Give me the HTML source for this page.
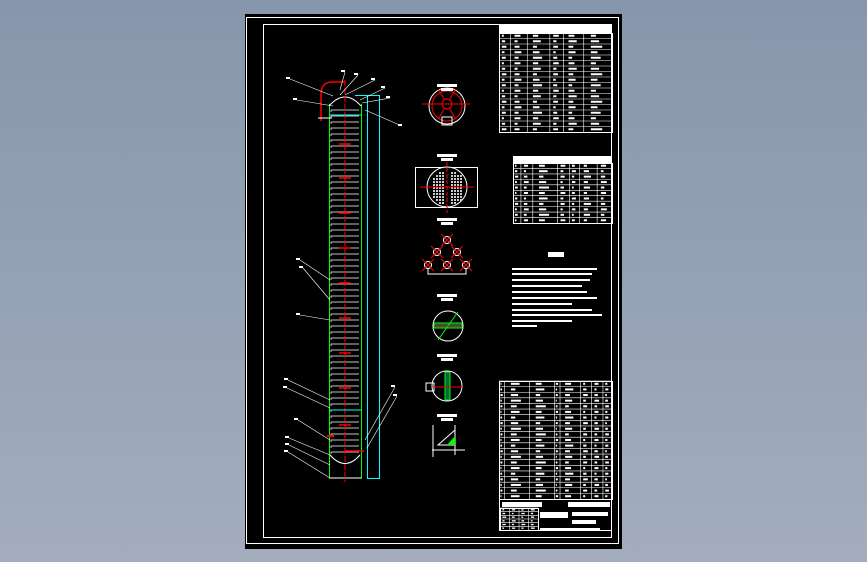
<!DOCTYPE html><html><head><meta charset="utf-8"><style>
html,body{margin:0;padding:0;width:867px;height:562px;overflow:hidden;background:linear-gradient(#8796ac,#a3adbd);}
svg{position:absolute;left:0;top:0}
</style></head><body>
<svg id="s" width="867" height="562" viewBox="0 0 867 562" font-family="Liberation Sans, Noto Sans CJK SC, sans-serif">
<rect x="245" y="14" width="377" height="535" fill="#000"/>
<rect x="246.5" y="17.5" width="372" height="526" fill="none" stroke="#fff" stroke-width="1"/>
<rect x="263.5" y="24.5" width="348" height="513" fill="none" stroke="#fff" stroke-width="1"/>
<g id="col"></g>
<g id="mid" fill="none"></g>
<g id="tb"></g>
</svg>
<script>
const NS="http://www.w3.org/2000/svg";
function el(p,t,a){const e=document.createElementNS(NS,t);for(const k in a)e.setAttribute(k,a[k]);p.appendChild(e);return e;}
const col=document.getElementById('col'),mid=document.getElementById('mid'),tb=document.getElementById('tb');
// column
el(col,'rect',{x:367.5,y:95.5,width:12,height:383,fill:'none',stroke:'#0ff'});
el(col,'line',{x1:355,y1:95.5,x2:368,y2:95.5,stroke:'#0ff'});
for(let y=110;y<455;y+=6){el(col,'path',{d:`M331 ${y+2} v-2 h28`,fill:'none',stroke:'#fff','stroke-width':0.7});}
el(col,'line',{x1:329.5,y1:104,x2:329.5,y2:478,stroke:'#0f0'});
el(col,'line',{x1:361.5,y1:104,x2:361.5,y2:478,stroke:'#0f0'});
el(col,'path',{d:'M329 106 Q345 88 361 106',fill:'none',stroke:'#fff'});
el(col,'path',{d:'M330 455 Q345 472 360 455',fill:'none',stroke:'#fff'});
el(col,'line',{x1:329,y1:478,x2:362,y2:478,stroke:'#fff'});
el(col,'line',{x1:345,y1:80,x2:345,y2:482,stroke:'#f00','stroke-dasharray':'6 2'});
el(col,'path',{d:'M321 121 V95 Q321 82 332 82 H345',fill:'none',stroke:'#f00','stroke-width':1.5});
el(col,'line',{x1:318,y1:118,x2:332,y2:118,stroke:'#fff'});
[144,178,213,248,283,318,353,388,425].forEach(y=>{el(col,'line',{x1:339,y1:y,x2:351,y2:y,stroke:'#f00','stroke-width':1.5});});
el(col,'line',{x1:330,y1:115,x2:361,y2:115,stroke:'#0ff'});
el(col,'line',{x1:330,y1:410,x2:361,y2:410,stroke:'#0ff'});
el(col,'line',{x1:327,y1:436,x2:334,y2:436,stroke:'#f00','stroke-width':2});
el(col,'line',{x1:345,y1:451,x2:364,y2:451,stroke:'#f00','stroke-width':1.5});
[[290,79,333,96],[297,100,333,106],[345,72,340,90],[358,75,340,95],[375,80,345,95],[385,88,360,100],[390,98,362,103],[402,126,365,110],[300,260,330,280],[303,268,330,300],[300,315,330,320],[288,380,330,400],[287,388,330,408],[298,420,330,440],[289,438,330,455],[289,445,330,465],[288,452,330,478],[395,387,365,440],[397,396,367,448]].forEach(a=>{el(col,'line',{x1:a[0],y1:a[1],x2:a[2],y2:a[3],stroke:'#fff','stroke-width':0.6});el(col,'rect',{x:a[0]-4,y:a[1]-2,width:4,height:2,fill:'#fff'});});
// mid drawings
el(mid,'circle',{cx:447,cy:106,r:18,stroke:'#fff'});
el(mid,'circle',{cx:447,cy:106,r:15,stroke:'#f00'});
el(mid,'circle',{cx:447,cy:104,r:5,stroke:'#f00'});
for(let a=0;a<6;a++){const r=a*Math.PI/3;el(mid,'line',{x1:447+5*Math.cos(r),y1:104+5*Math.sin(r),x2:447+17*Math.cos(r),y2:104+17*Math.sin(r),stroke:'#f00'});}
el(mid,'line',{x1:422,y1:104,x2:470,y2:104,stroke:'#f00'});
el(mid,'rect',{x:442,y:117,width:10,height:8,stroke:'#fff'});
el(mid,'rect',{x:415.5,y:167.5,width:62,height:40,stroke:'#fff'});
el(mid,'circle',{cx:447,cy:187,r:20,stroke:'#fff',fill:'#000'});
for(let y=172;y<203;y+=3)for(let x=433;x<461;x+=3){if(Math.hypot(x-447,y-187)<18&&Math.abs(x-447)>2)el(mid,'rect',{x:x,y:y,width:2,height:2,fill:'#ccc'});}
el(mid,'line',{x1:447,y1:162,x2:447,y2:213,stroke:'#f00','stroke-dasharray':'4 2'});
el(mid,'line',{x1:420,y1:187,x2:474,y2:187,stroke:'#f00'});
[[447,240],[437,252],[457,252],[428,265],[447,265],[466,265]].forEach(p=>{el(mid,'circle',{cx:p[0],cy:p[1],r:3.5,stroke:'#fff'});el(mid,'line',{x1:p[0]-6,y1:p[1]-6,x2:p[0]+6,y2:p[1]+6,stroke:'#f00'});el(mid,'line',{x1:p[0]+6,y1:p[1]-6,x2:p[0]-6,y2:p[1]+6,stroke:'#f00'});});
el(mid,'path',{d:'M428 268 V274 H466 V268',stroke:'#fff'});
[[448,326],[447,386]].forEach(c=>{el(mid,'circle',{cx:c[0],cy:c[1],r:15,stroke:'#fff'});});
el(mid,'rect',{x:434,y:323,width:28,height:5,stroke:'#0f0',fill:'#064'});
el(mid,'line',{x1:438,y1:340,x2:458,y2:312,stroke:'#0f0'});
el(mid,'line',{x1:434,y1:326,x2:462,y2:326,stroke:'#f00'});
el(mid,'rect',{x:445,y:372,width:5,height:28,stroke:'#0f0',fill:'#064'});
el(mid,'rect',{x:426,y:383,width:8,height:8,stroke:'#fff'});
el(mid,'line',{x1:433,y1:387,x2:462,y2:387,stroke:'#f00'});
el(mid,'path',{d:'M432 450 H465 M433 425 V457 M455 425 V455 M438 445 L455 430 V445 Z',stroke:'#fff'});
el(mid,'path',{d:'M447 445 L455 436 V445 Z',fill:'#0f0'});
[[447,88],[447,158],[447,222],[447,298],[447,358],[447,418]].forEach(p=>{el(mid,'rect',{x:p[0]-10,y:p[1]-4,width:20,height:3,fill:'#fff'});el(mid,'rect',{x:p[0]-6,y:p[1],width:12,height:3,fill:'#fff'});});
// tables
function grid(x,y,w,h,cols,rows){el(tb,'rect',{x:x+.5,y:y+.5,width:w,height:h,fill:'none',stroke:'#fff'});
 const rh=h/rows;for(let r=0;r<rows;r++){const yy=y+r*rh;el(tb,'line',{x1:x,y1:yy,x2:x+w,y2:yy,stroke:'#fff','stroke-width':.6});
 let cx=x;cols.forEach((c,i)=>{const cw=c*w;if(i>0)el(tb,'line',{x1:cx,y1:yy,x2:cx,y2:yy+rh,stroke:'#fff','stroke-width':.6});
 el(tb,'rect',{x:cx+cw*0.25,y:yy+rh*0.32,width:cw*0.45*((r*7+i*3)%5/8+0.4),height:rh*0.36,fill:'#fff'});cx+=cw;});}}
el(tb,'rect',{x:499,y:25,width:113,height:8,fill:'#fff'});
grid(499,33,113,99,[.1,.15,.2,.12,.18,.25],18);
el(tb,'rect',{x:513,y:156,width:99,height:7,fill:'#fff'});
grid(513,163,99,60,[.08,.12,.25,.12,.1,.18,.15],11);
grid(499,381,113,118,[.05,.22,.22,.05,.18,.1,.1,.08],21);
el(tb,'rect',{x:499.5,y:499.5,width:112,height:31,fill:'none',stroke:'#fff'});
el(tb,'rect',{x:502,y:502,width:40,height:5,fill:'#fff'});el(tb,'rect',{x:568,y:502,width:42,height:5,fill:'#fff'});
el(tb,'rect',{x:540,y:512,width:28,height:6,fill:'#fff'});el(tb,'rect',{x:572,y:512,width:36,height:4,fill:'#fff'});el(tb,'rect',{x:572,y:520,width:24,height:4,fill:'#fff'});
grid(500,508,38,22,[.25,.25,.25,.25],6);
el(tb,'rect',{x:540,y:528,width:60,height:2,fill:'#fff'});
el(tb,'rect',{x:548,y:252,width:16,height:5,fill:'#fff'});
[[512,268,85],[512,273,80],[512,279,78],[512,285,70],[512,291,75],[512,297,85],[512,303,60],[512,309,80],[512,314,90],[512,320,60],[512,325,25]].forEach(a=>{el(tb,'rect',{x:a[0],y:a[1],width:a[2],height:2,fill:'#fff'});});
</script>
</body></html>
